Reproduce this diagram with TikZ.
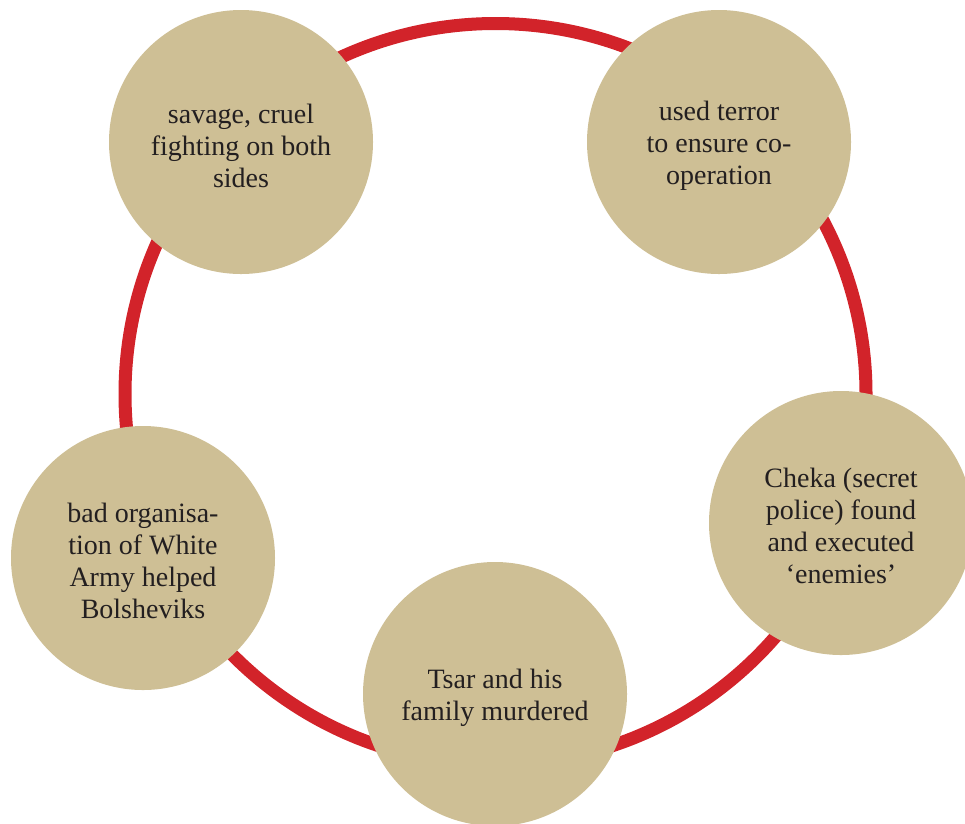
\documentclass[tikz,border=0pt]{standalone}
\usepackage{fontspec}
\setmainfont{Liberation Serif}
\definecolor{tan}{RGB}{206,191,149}
\definecolor{ringred}{RGB}{210,35,42}
\definecolor{ink}{RGB}{35,31,32}
\begin{document}
\begin{tikzpicture}[x=1pt,y=-1pt,
  bubble/.style={circle, fill=tan, minimum size=264pt, inner sep=0pt},
  bubbletext/.style={inner sep=0pt, align=center, text=ink,
    font=\fontsize{28}{32}\selectfont},
  ring/.style={draw=ringred, line width=13pt}]
\useasboundingbox (0,0) rectangle (965,823);
\coordinate (ringc) at (495.5,394);
\draw[ring] (ringc) circle [radius=370.5pt];
\node[bubble] (savage) at (241,142) {};
\node[bubble] (terror) at (719,142) {};
\node[bubble] (cheka) at (841,523) {};
\node[bubble] (tsar) at (495,694) {};
\node[bubble] (bad) at (143,558) {};
\node[bubbletext] (savaget) at ([yshift=-4pt]savage.center) {savage, cruel\\fighting on both\\sides};
\node[bubbletext] (terrort) at ([yshift=-4pt]terror.center) {used terror\\to ensure co-\\operation};
\node[bubbletext] (chekat) at ([yshift=-3pt]cheka.center) {Cheka (secret\\police) found\\and executed\\‘enemies’};
\node[bubbletext] (tsart) at ([yshift=-4pt]tsar.center) {Tsar and his\\family murdered};
\node[bubbletext] (badt) at ([yshift=-3pt]bad.center) {bad organisa-\\tion of White\\Army helped\\Bolsheviks};
\end{tikzpicture}
\end{document}
